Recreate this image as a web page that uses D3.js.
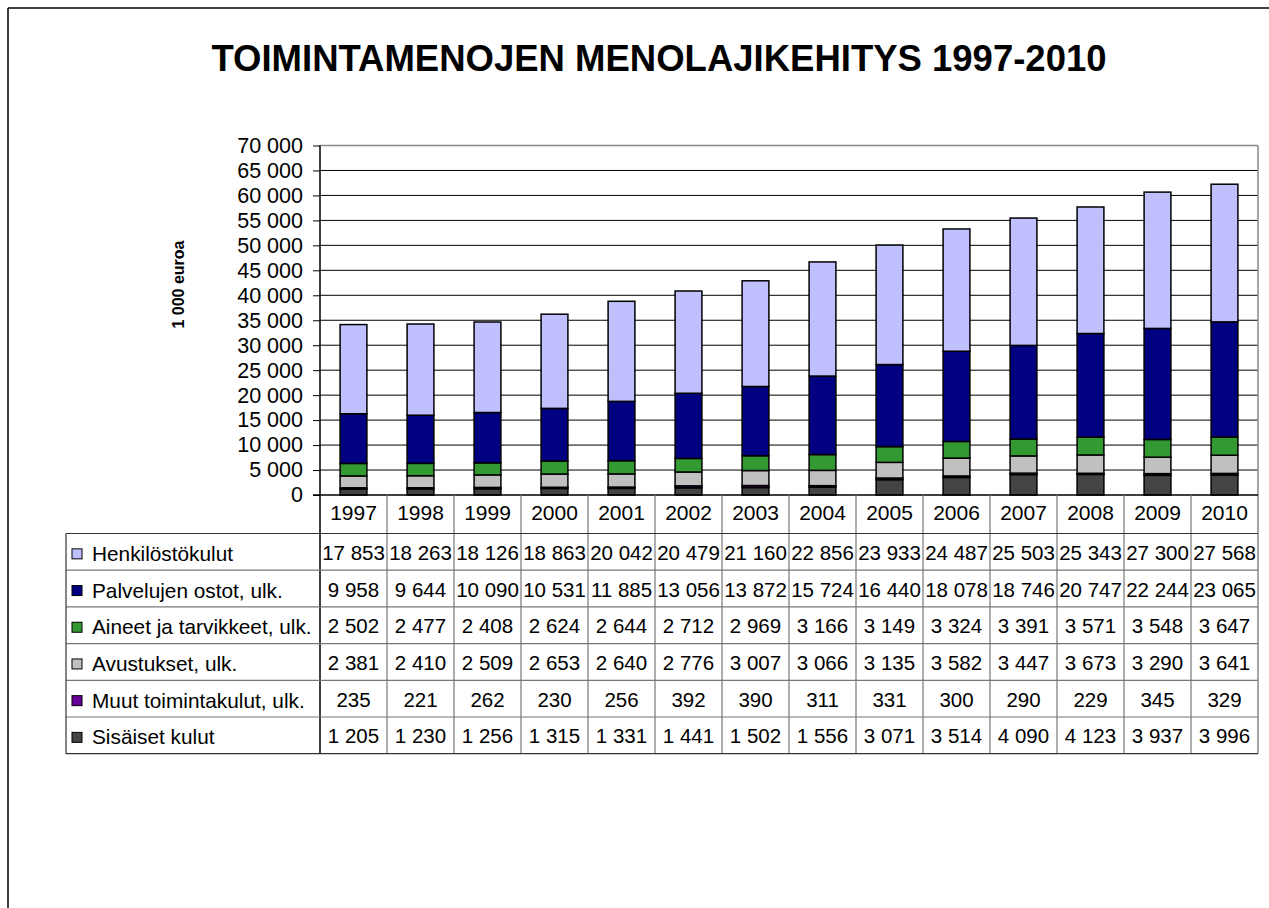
<!DOCTYPE html>
<html>
<head>
<meta charset="utf-8">
<script src="https://cdn.jsdelivr.net/npm/d3@7"></script>
<style>
  html, body { margin: 0; padding: 0; background: #fff; }
  svg { display: block; font-family: "Liberation Sans", Arial, sans-serif; }
</style>
</head>
<body>
<svg id="chart" width="1269" height="908"></svg>
<script>
const years = [1997, 1998, 1999, 2000, 2001, 2002, 2003, 2004, 2005, 2006, 2007, 2008, 2009, 2010];
const henkilostokulut = [17853, 18263, 18126, 18863, 20042, 20479, 21160, 22856, 23933, 24487, 25503, 25343, 27300, 27568];
const palvelujenOstot = [9958, 9644, 10090, 10531, 11885, 13056, 13872, 15724, 16440, 18078, 18746, 20747, 22244, 23065];
const aineetJaTarvikkeet = [2502, 2477, 2408, 2624, 2644, 2712, 2969, 3166, 3149, 3324, 3391, 3571, 3548, 3647];
const avustukset = [2381, 2410, 2509, 2653, 2640, 2776, 3007, 3066, 3135, 3582, 3447, 3673, 3290, 3641];
const muutToimintakulut = [235, 221, 262, 230, 256, 392, 390, 311, 331, 300, 290, 229, 345, 329];
const sisaisetKulut = [1205, 1230, 1256, 1315, 1331, 1441, 1502, 1556, 3071, 3514, 4090, 4123, 3937, 3996];
const yTicks = [0, 5000, 10000, 15000, 20000, 25000, 30000, 35000, 40000, 45000, 50000, 55000, 60000, 65000, 70000];

// series in table order (top to bottom); stacking uses reverse order
const series = [
  { name: "Henkilöstökulut", values: henkilostokulut, color: "#C0C0FF" },
  { name: "Palvelujen ostot, ulk.", values: palvelujenOstot, color: "#000080" },
  { name: "Aineet ja tarvikkeet, ulk.", values: aineetJaTarvikkeet, color: "#339933" },
  { name: "Avustukset, ulk.", values: avustukset, color: "#C0C0C0" },
  { name: "Muut toimintakulut, ulk.", values: muutToimintakulut, color: "#660099" },
  { name: "Sisäiset kulut", values: sisaisetKulut, color: "#444444" }
];

const fmt = v => d3.format(",")(v).replace(/,/g, " ");

const svg = d3.select("#chart");

// layout
const plotLeft = 320, plotRight = 1258, plotTop = 145.5, plotBottom = 495;
const tableLeft = 66, headerBottom = 533.5, rowH = 36.7;
const tableBottom = headerBottom + rowH * series.length;

// outer frame
svg.append("line").attr("x1", 8).attr("y1", 8).attr("x2", 1269).attr("y2", 8).attr("stroke", "#000").attr("stroke-width", 1.5);
svg.append("line").attr("x1", 8).attr("y1", 8).attr("x2", 8).attr("y2", 908).attr("stroke", "#000").attr("stroke-width", 1.5);

// title
svg.append("text").attr("x", 659).attr("y", 71).attr("text-anchor", "middle")
  .attr("font-size", 36.5).attr("font-weight", "bold").attr("fill", "#000")
  .text("TOIMINTAMENOJEN MENOLAJIKEHITYS 1997-2010");

// y title
svg.append("text").attr("transform", "translate(184,284.5) rotate(-90)")
  .attr("text-anchor", "middle").attr("font-size", 16).attr("font-weight", "bold")
  .text("1 000 euroa");

const x = d3.scaleBand().domain(years).range([plotLeft, plotRight]).padding(0);
const y = d3.scaleLinear().domain([0, 70000]).range([plotBottom, plotTop]);
const barW = x.bandwidth() * 0.4;

// gridlines
svg.append("g").selectAll("line").data(yTicks.filter(t => t > 0 && t < 70000)).join("line")
  .attr("x1", plotLeft).attr("x2", plotRight)
  .attr("y1", d => y(d)).attr("y2", d => y(d))
  .attr("stroke", "#000").attr("stroke-width", 1);

// plot area border (top, right)
svg.append("line").attr("x1", plotLeft).attr("x2", plotRight).attr("y1", y(70000)).attr("y2", y(70000)).attr("stroke", "#888").attr("stroke-width", 1.5);
svg.append("line").attr("x1", plotRight).attr("x2", plotRight).attr("y1", y(70000)).attr("y2", tableBottom).attr("stroke", "#888").attr("stroke-width", 1.5);

// axis
const yAxis = d3.axisLeft(y).tickValues(yTicks).tickSize(7).tickPadding(10).tickFormat(fmt);
const ga = svg.append("g").attr("transform", `translate(${plotLeft},0)`).call(yAxis);
ga.select(".domain").remove();
ga.selectAll(".tick line").attr("stroke", "#000");
ga.selectAll(".tick text").attr("font-size", 21.5).attr("font-family", '"Liberation Sans", Arial, sans-serif').attr("fill", "#000");

// stacked bars
const stackOrder = series.slice().reverse();
const rows = years.map((yr, i) => {
  const o = { year: yr };
  stackOrder.forEach(s => { o[s.name] = s.values[i]; });
  return o;
});
const stack = d3.stack().keys(stackOrder.map(s => s.name));
const stacked = stack(rows);
const gb = svg.append("g");
stacked.forEach((layer, li) => {
  gb.append("g").selectAll("rect").data(layer).join("rect")
    .attr("x", d => x(d.data.year) + (x.bandwidth() - barW) / 2)
    .attr("width", barW)
    .attr("y", d => y(d[1]))
    .attr("height", d => y(d[0]) - y(d[1]))
    .attr("fill", stackOrder[li].color)
    .attr("stroke", "#000").attr("stroke-width", 1.5);
});

// y axis line
svg.append("line").attr("x1", plotLeft).attr("x2", plotLeft).attr("y1", y(70000)).attr("y2", tableBottom).attr("stroke", "#000").attr("stroke-width", 1.5);
// x axis baseline
svg.append("line").attr("x1", plotLeft - 7).attr("x2", plotRight).attr("y1", plotBottom).attr("y2", plotBottom).attr("stroke", "#000").attr("stroke-width", 1.3);

// data table
const gt = svg.append("g");
// column lines
gt.selectAll("line.col").data(years.slice(1)).join("line").attr("class", "col")
  .attr("x1", d => x(d)).attr("x2", d => x(d))
  .attr("y1", plotBottom).attr("y2", tableBottom)
  .attr("stroke", "#777").attr("stroke-width", 1.2);
// row lines
gt.selectAll("line.row").data(d3.range(series.length + 1)).join("line").attr("class", "row")
  .attr("x1", tableLeft).attr("x2", plotRight)
  .attr("y1", i => headerBottom + i * rowH).attr("y2", i => headerBottom + i * rowH)
  .attr("stroke", (i) => (i === 0 || i === series.length) ? "#333" : "#777").attr("stroke-width", 1.2);
// left border
gt.append("line").attr("x1", tableLeft).attr("x2", tableLeft).attr("y1", headerBottom).attr("y2", tableBottom).attr("stroke", "#333").attr("stroke-width", 1.2);

// year header
gt.selectAll("text.year").data(years).join("text").attr("class", "year")
  .attr("x", d => x(d) + x.bandwidth() / 2).attr("y", plotBottom + 25)
  .attr("text-anchor", "middle").attr("font-size", 21).text(d => d);

// legend rows + values
series.forEach((s, r) => {
  const cy = headerBottom + r * rowH + rowH / 2;
  gt.append("rect").attr("x", 72).attr("y", cy - 3).attr("width", 10).attr("height", 10)
    .attr("fill", s.color).attr("stroke", "#000").attr("stroke-width", 1);
  gt.append("text").attr("x", 92).attr("y", cy + 9).attr("font-size", 20.8).text(s.name);
  gt.selectAll(null).data(s.values).join("text")
    .attr("x", (d, i) => x(years[i]) + x.bandwidth() / 2).attr("y", cy + 8)
    .attr("text-anchor", "middle").attr("font-size", 20.5).text(d => fmt(d));
});
</script>
</body>
</html>
